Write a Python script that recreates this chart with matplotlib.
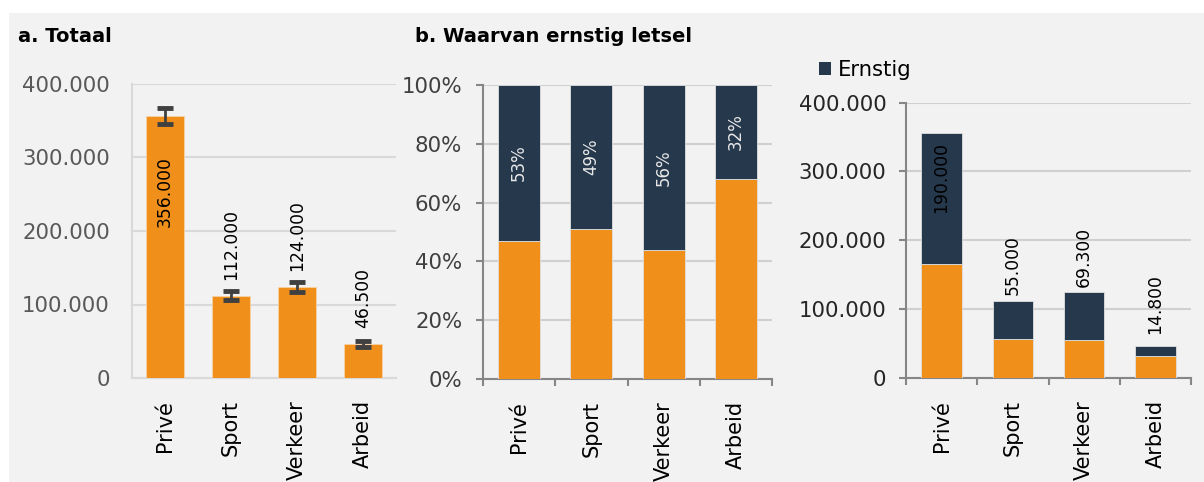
import matplotlib
matplotlib.use("Agg")
import matplotlib.pyplot as plt
from matplotlib.patches import Rectangle, Patch
from matplotlib.ticker import FixedLocator, FuncFormatter
import numpy as np

plt.rcParams['font.family'] = ['DejaVu Sans']

# ---- data ----
categories = ["Privé", "Sport", "Verkeer", "Arbeid"]
totaal = [356000, 112000, 124000, 46500]
totaal_err = [11000, 6000, 6500, 4500]
ernstig_pct = [53, 49, 56, 32]
ernstig_abs = [190000, 55000, 69300, 14800]
niet_ernstig_abs = [166000, 57000, 54700, 31700]

ORANGE = '#F0901A'
NAVY = '#26384C'
BG = '#F2F2F2'
W, H = 1204, 482

def fmt_nl(v):
    return f"{v:,.0f}".replace(",", ".")

fig = plt.figure(figsize=(W / 100, H / 100), dpi=100, facecolor='white')
fig.patches.append(Rectangle((9 / W, 0), 1 - 9 / W, (H - 13) / H,
                             transform=fig.transFigure, facecolor=BG,
                             edgecolor='none', zorder=-10))

def px_axes(x0, x1, ytop, ybot):
    return fig.add_axes([x0 / W, 1 - ybot / H, (x1 - x0) / W, (ybot - ytop) / H])

x = np.arange(len(categories))

# ---------------- panel a ----------------
axa = px_axes(132, 396, 84, 378)
axa.set_facecolor('none')
axa.bar(x, totaal, width=0.57, color=ORANGE, edgecolor='#F6D3A8', linewidth=0.6, zorder=3)
axa.errorbar(x, totaal, yerr=totaal_err, fmt='none', ecolor='#404040',
             elinewidth=2, capsize=5.5, capthick=3.5, zorder=4)
axa.set_xlim(-0.5, 3.5)
axa.set_ylim(0, 400000)
axa.yaxis.set_major_locator(FixedLocator([0, 100000, 200000, 300000, 400000]))
axa.yaxis.set_major_formatter(FuncFormatter(lambda v, p: fmt_nl(v)))
axa.grid(axis='y', color='#D9D9D9', linewidth=1.5, zorder=0)
axa.set_axisbelow(True)
for s in ['top', 'right']:
    axa.spines[s].set_visible(False)
for s in ['left', 'bottom']:
    axa.spines[s].set_color('#D9D9D9')
    axa.spines[s].set_linewidth(1.5)
axa.tick_params(axis='y', length=0, pad=16, labelsize=15.3, labelcolor='#595959')
axa.set_xticks(x)
axa.set_xticklabels(categories, rotation=90, fontsize=15, color='black')
axa.tick_params(axis='x', length=0, pad=16)
for i, v in enumerate(totaal):
    if i == 0:
        axa.annotate(fmt_nl(v), (i, v), xytext=(0, -29), textcoords='offset points',
                     rotation=90, ha='center', va='top', fontsize=12.3, color='black', zorder=5)
    else:
        axa.annotate(fmt_nl(v), (i, v), xytext=(0, 11.5), textcoords='offset points',
                     rotation=90, ha='center', va='bottom', fontsize=12.3, color='black', zorder=5)
fig.text(18 / W, 1 - 37 / H, "a. Totaal", fontsize=14, fontweight='bold',
         ha='left', va='center', color='black')

# ---------------- panel b ----------------
axb = px_axes(483, 772, 85, 379)
axb.set_facecolor('none')
niet_pct = [100 - p for p in ernstig_pct]
axb.bar(x, niet_pct, width=0.58, color=ORANGE, edgecolor='#E0E0E0', linewidth=0.6, zorder=3)
axb.bar(x, ernstig_pct, bottom=niet_pct, width=0.58, color=NAVY,
        edgecolor='#E0E0E0', linewidth=0.6, zorder=3)
axb.set_xlim(-0.5, 3.5)
axb.set_ylim(0, 100)
axb.yaxis.set_major_locator(FixedLocator([0, 20, 40, 60, 80, 100]))
axb.yaxis.set_major_formatter(FuncFormatter(lambda v, p: f"{v:.0f}%"))
axb.grid(axis='y', color='#D0D0D0', linewidth=1.5, zorder=0)
axb.set_axisbelow(True)
for s in ['top', 'right']:
    axb.spines[s].set_visible(False)
for s in ['left', 'bottom']:
    axb.spines[s].set_color('#868686')
    axb.spines[s].set_linewidth(1.5)
axb.tick_params(axis='y', length=5, width=1.5, color='#868686', pad=10,
                labelsize=15.3, labelcolor='#404040')
axb.set_xticks(x)
axb.set_xticklabels(categories, rotation=90, fontsize=15, color='black')
axb.xaxis.set_minor_locator(FixedLocator([-0.5, 0.5, 1.5, 2.5, 3.5]))
axb.tick_params(axis='x', which='major', length=0, pad=16)
axb.tick_params(axis='x', which='minor', length=5, width=1.5, color='#868686')
for i, p in enumerate(ernstig_pct):
    axb.text(i, niet_pct[i] + p / 2, f"{p}%", rotation=90, ha='center', va='center',
             fontsize=12, color='#E8E8E8', zorder=5)
fig.text(415 / W, 1 - 37 / H, "b. Waarvan ernstig letsel", fontsize=14,
         fontweight='bold', ha='left', va='center', color='black')

# ---------------- panel c ----------------
axc = px_axes(906, 1191, 102.7, 377.7)
axc.set_facecolor('none')
axc.bar(x, niet_ernstig_abs, width=0.57, color=ORANGE, edgecolor='#E0E0E0', linewidth=0.6, zorder=3)
axc.bar(x, ernstig_abs, bottom=niet_ernstig_abs, width=0.57, color=NAVY,
        edgecolor='#E0E0E0', linewidth=0.6, zorder=3)
axc.set_xlim(-0.5, 3.5)
axc.set_ylim(0, 400000)
axc.yaxis.set_major_locator(FixedLocator([0, 100000, 200000, 300000, 400000]))
axc.yaxis.set_major_formatter(FuncFormatter(lambda v, p: fmt_nl(v)))
axc.grid(axis='y', color='#D0D0D0', linewidth=1.5, zorder=0)
axc.set_axisbelow(True)
for s in ['top', 'right']:
    axc.spines[s].set_visible(False)
for s in ['left', 'bottom']:
    axc.spines[s].set_color('#868686')
    axc.spines[s].set_linewidth(1.5)
axc.tick_params(axis='y', length=5, width=1.5, color='#868686', pad=9,
                labelsize=15.3, labelcolor='#262626')
axc.set_xticks(x)
axc.set_xticklabels(categories, rotation=90, fontsize=15, color='black')
axc.xaxis.set_minor_locator(FixedLocator([-0.5, 0.5, 1.5, 2.5, 3.5]))
axc.tick_params(axis='x', which='major', length=0, pad=16)
axc.tick_params(axis='x', which='minor', length=5, width=1.5, color='#868686')
label_offsets_c = [-6.5, 4, 4, 8.5]
for i, v in enumerate(ernstig_abs):
    top = niet_ernstig_abs[i] + v
    off = label_offsets_c[i]
    axc.annotate(fmt_nl(v), (i, top), xytext=(0, off), textcoords='offset points',
                 rotation=90, ha='center', va='top' if off < 0 else 'bottom',
                 fontsize=12.3, color='black', zorder=5)

fig.legend(handles=[Patch(facecolor=NAVY, edgecolor='none')], labels=['Ernstig'],
           loc='center left', bbox_to_anchor=(819 / W, 1 - 70 / H), frameon=False,
           fontsize=15.2, handlelength=0.56, handleheight=0.56, handletextpad=0.35,
           borderpad=0, borderaxespad=0)

fig.savefig("out.png", dpi=100, facecolor='white')
